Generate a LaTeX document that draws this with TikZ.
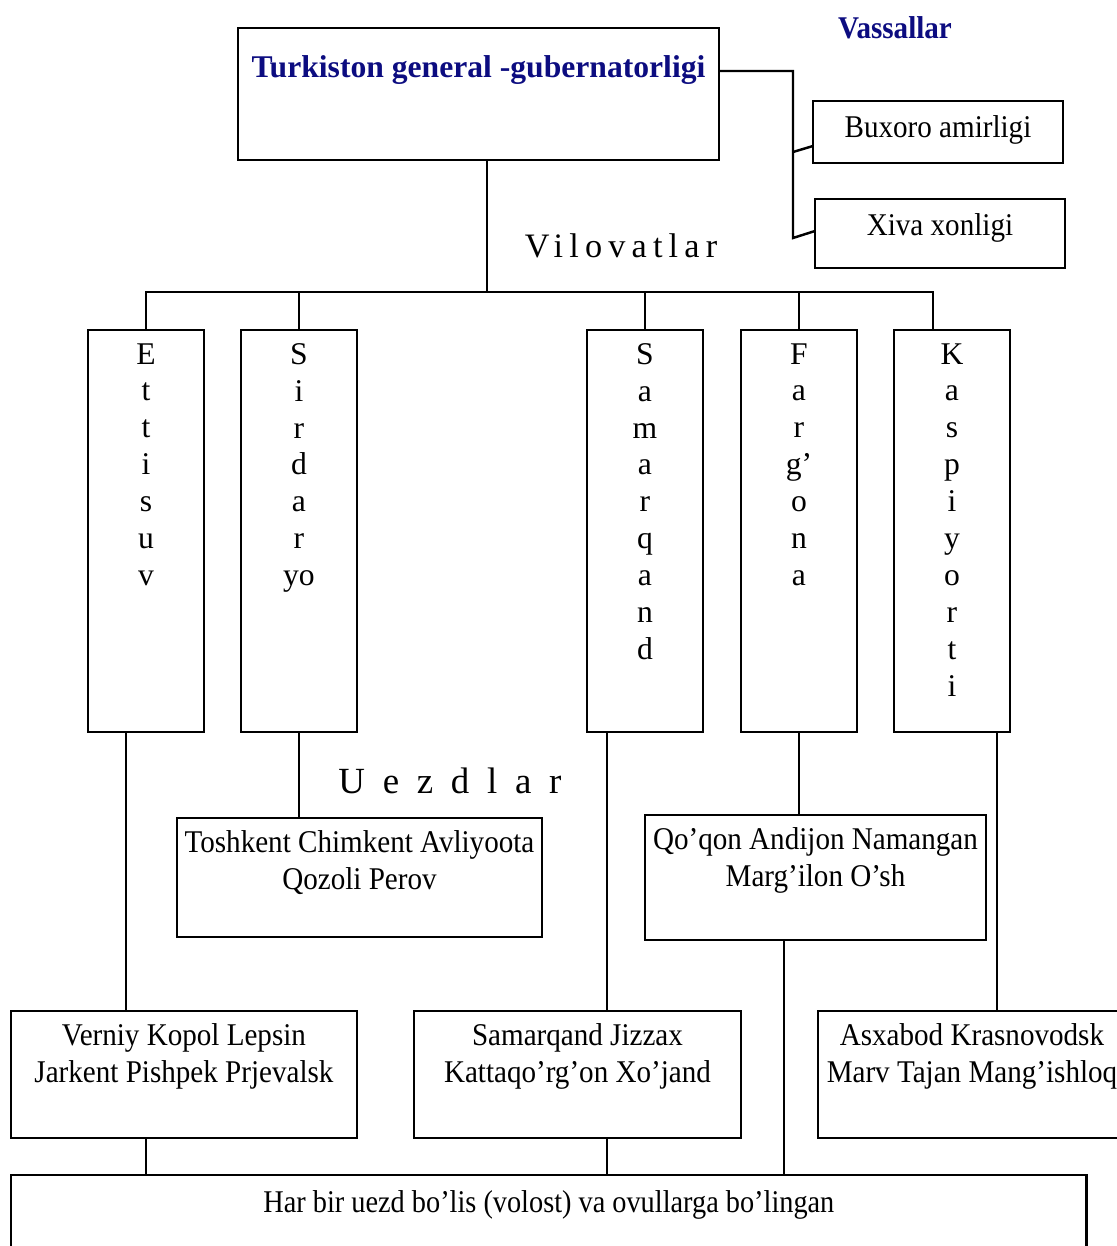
\documentclass[tikz,border=0pt]{standalone}
\usepackage{fontspec}
\setmainfont{Liberation Serif}
\newfontfamily\narrowfont[FakeStretch=0.92]{Liberation Serif}
\newfontfamily\narrowerfont[FakeStretch=0.895]{Liberation Serif}
\newfontfamily\spacedfont[LetterSpace=18]{Liberation Serif}
\newfontfamily\widefont[LetterSpace=48]{Liberation Serif}
\definecolor{titlenavy}{RGB}{12,12,128}
\begin{document}
\begin{tikzpicture}[x=0.02cm, y=-0.02cm,
	box/.style={draw, line width=1.6pt, anchor=north west, inner sep=0pt, outer sep=0pt},
	inlbl/.style={anchor=north, inner sep=0pt, yshift=-0.24cm, align=center, font=\narrowfont\fontsize{18}{21}\selectfont},
	vlbl/.style={inlbl, yshift=-0.02cm, font=\fontsize{18}{21}\selectfont},
	conn/.style={line width=1.4pt}]

	\useasboundingbox (0,0) rectangle (1116,1246);

	\node [box, minimum width=9.62cm, minimum height=2.64cm, label={[inlbl, yshift=-0.3cm, font=\bfseries\fontsize{18}{21}\selectfont, text=titlenavy]north:Turkiston general -gubernatorligi}] (tg) at (238,28) {};
	\node [font=\narrowfont\bfseries\fontsize{18}{21}\selectfont, text=titlenavy] (vas) at (895,28) {Vassallar};
	\node [box, minimum width=5cm, minimum height=1.24cm, label={[inlbl, yshift=-0.04cm]north:Buxoro amirligi}] (buk) at (813,101) {};
	\node [box, minimum width=5cm, minimum height=1.38cm, label={[inlbl, yshift=-0.04cm]north:Xiva xonligi}] (xiv) at (815,199) {};

	\node [font=\spacedfont\fontsize{19.5}{21}\selectfont] (vil) at (621,246) {Vilovatlar};

	\node [box, minimum width=2.32cm, minimum height=8.04cm, label={[vlbl]north:{E\\t\\t\\i\\s\\u\\v}}] (ett) at (88,330) {};
	\node [box, minimum width=2.32cm, minimum height=8.04cm, label={[vlbl]north:{S\\i\\r\\d\\a\\r\\yo}}] (sir) at (241,330) {};
	\node [box, minimum width=2.32cm, minimum height=8.04cm, label={[vlbl]north:{S\\a\\m\\a\\r\\q\\a\\n\\d}}] (sam) at (587,330) {};
	\node [box, minimum width=2.32cm, minimum height=8.04cm, label={[vlbl]north:{F\\a\\r\\g’\\o\\n\\a}}] (far) at (741,330) {};
	\node [box, minimum width=2.32cm, minimum height=8.04cm, label={[vlbl]north:{K\\a\\s\\p\\i\\y\\o\\r\\t\\i}}] (kasp) at (894,330) {};

	\node [font=\widefont\fontsize{21}{21}\selectfont] (uez) at (450,781) {Uezdlar};

	\node [box, minimum width=7.3cm, minimum height=2.38cm, label={[inlbl]north:{Toshkent Chimkent Avliyoota\\Qozoli Perov}}] (tosh) at (177,818) {};
	\node [box, minimum width=6.82cm, minimum height=2.5cm, label={[inlbl]north:{Qo’qon Andijon Namangan\\Marg’ilon O’sh}}] (qoq) at (645,815) {};

	\node [box, minimum width=6.92cm, minimum height=2.54cm, label={[inlbl]north:{Verniy Kopol Lepsin\\Jarkent Pishpek Prjevalsk}}] (ver) at (11,1011) {};
	\node [box, minimum width=6.54cm, minimum height=2.54cm, label={[inlbl]north:{Samarqand Jizzax\\Kattaqo’rg’on Xo’jand}}] (samj) at (414,1011) {};
	\node [box, minimum width=6.16cm, minimum height=2.54cm, label={[inlbl]north:{Asxabod Krasnovodsk\\Marv Tajan Mang’ishloq}}] (asx) at (818,1011) {};

	\node [box, minimum width=21.52cm, minimum height=1.9cm, label={[inlbl, yshift=-0.06cm, font=\narrowerfont\fontsize{18}{21}\selectfont]north:Har bir uezd bo’lis (volost) va ovullarga bo’lingan}] (har) at (11,1175) {};

	\coordinate (vtop) at (793,71);
	\coordinate (vbuk) at (793,152);
	\coordinate (vxiv) at (793,238);
	\draw [conn] (tg.east |- vtop) -- (vtop) -- (vxiv) -- ([yshift=0.05cm]xiv.west);
	\draw [conn] (vbuk) -- ([yshift=-0.28cm]buk.west);

	\coordinate (hub) at (487,292);
	\draw [conn] (tg.south -| hub) -- (hub);
	\draw [conn] (ett.north) -- (ett.north |- hub) -- ([xshift=-0.38cm]kasp.north |- hub) -- ([xshift=-0.38cm]kasp.north);
	\foreach \n in {sir,sam,far}
		\draw [conn] (\n.north) -- (\n.north |- hub);

	\draw [conn] ([xshift=-0.4cm]ett.south) -- ([xshift=-0.4cm]ett.south |- ver.north);
	\draw [conn] (sir.south) -- (sir.south |- tosh.north);
	\draw [conn] ([xshift=-0.76cm]sam.south) -- ([xshift=-0.76cm]sam.south |- samj.north);
	\draw [conn] (far.south) -- (far.south |- qoq.north);
	\draw [conn] ([xshift=0.9cm]kasp.south) -- ([xshift=0.9cm]kasp.south |- asx.north);

	\draw [conn] ([xshift=-0.63cm]qoq.south) -- ([xshift=-0.63cm]qoq.south |- har.north);
	\draw [conn] ([xshift=-0.76cm]ver.south) -- ([xshift=-0.76cm]ver.south |- har.north);
	\draw [conn] ([xshift=0.59cm]samj.south) -- ([xshift=0.59cm]samj.south |- har.north);
\end{tikzpicture}
\end{document}
